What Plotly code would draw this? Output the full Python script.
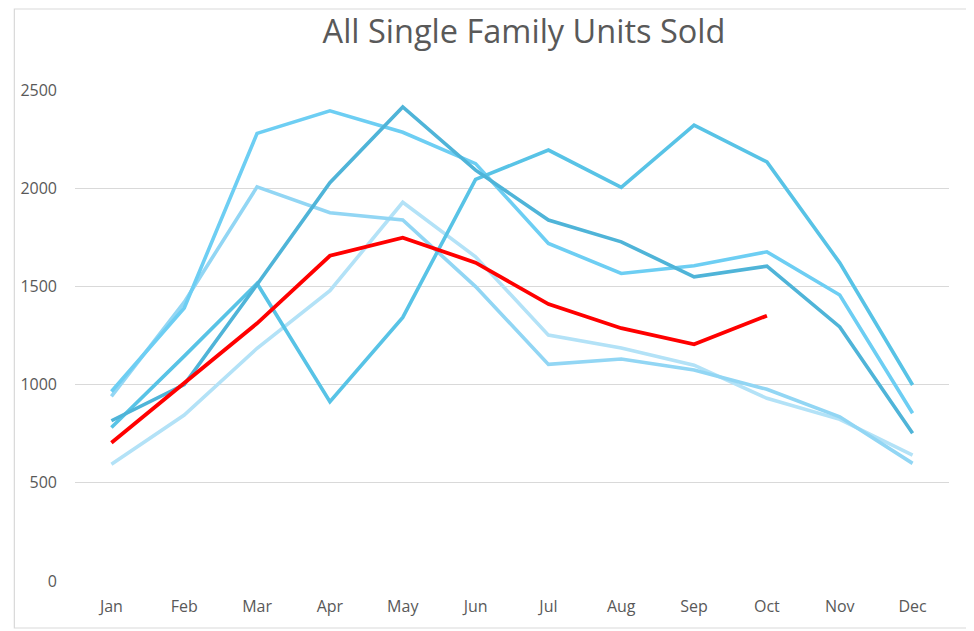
import plotly.graph_objects as go

months = ["Jan", "Feb", "Mar", "Apr", "May", "Jun", "Jul", "Aug", "Sep", "Oct", "Nov", "Dec"]

series_a = [965, 1390, 2279, 2394, 2285, 2125, 1719, 1566, 1605, 1676, 1456, 854]
series_b = [940, 1420, 2007, 1875, 1838, 1499, 1103, 1130, 1074, 976, 836, 599]
series_c = [816, 1000, 1510, 2028, 2414, 2092, 1838, 1727, 1549, 1603, 1294, 752]
series_d = [782, 1145, 1515, 913, 1342, 2045, 2194, 2004, 2321, 2134, 1620, 998]
series_e = [594, 845, 1185, 1478, 1928, 1651, 1252, 1186, 1099, 930, 823, 641]
series_current = [704, 1006, 1312, 1656, 1748, 1621, 1410, 1287, 1205, 1351]

y_ticks = [0, 500, 1000, 1500, 2000, 2500]

colors = ["#b3e2f7", "#92d6f4", "#6dcef3", "#58c3e6", "#4fb4d8"]
order = [series_e, series_b, series_a, series_d, series_c]

fig = go.Figure()
for vals, col in zip(order, colors):
    fig.add_trace(go.Scatter(x=months[:len(vals)], y=vals, mode="lines",
                             line=dict(color=col, width=3.6), hoverinfo="skip"))
fig.add_trace(go.Scatter(x=months[:len(series_current)], y=series_current, mode="lines",
                         line=dict(color="#ff0000", width=3.8), hoverinfo="skip"))

W, H = 966, 623
L, T, PW, PH = 62, 82, 879, 491
fig.update_layout(
    width=W, height=H,
    margin=dict(l=L, r=W - L - PW, t=T, b=H - T - PH),
    paper_bgcolor="white", plot_bgcolor="white",
    showlegend=False,
    font=dict(family="Open Sans, Noto Sans, sans-serif", color="#595959", size=16),
    title=dict(text="All Single Family Units Sold", x=516 / W, xanchor="center",
               y=1 - 24 / H, yanchor="middle",
               font=dict(size=32.5, color="#595959", family="Open Sans, Noto Sans, sans-serif")),
    xaxis=dict(type="category", categoryorder="array", categoryarray=months,
               range=[-0.5, 11.5], showgrid=False, zeroline=False, showline=False,
               ticks="", tickfont=dict(size=16, color="#595959"), ticklabelstandoff=14),
    yaxis=dict(range=[0, 2500], tickvals=y_ticks, showgrid=True, gridcolor="#d9d9d9",
               gridwidth=1.3, zeroline=False, showline=False, ticks="",
               tickfont=dict(size=16, color="#595959"), ticklabelstandoff=17),
    shapes=[dict(type="rect", xref="paper", yref="paper",
                 x0=(1 - L) / PW, x1=(W - 4 - L) / PW,
                 y0=-(H - 3 - T - PH) / PH, y1=1 + (T - 1) / PH,
                 line=dict(color="#d9d9d9", width=1.2),
                 fillcolor="rgba(0,0,0,0)", layer="below")],
)

fig.write_html("out.html")
